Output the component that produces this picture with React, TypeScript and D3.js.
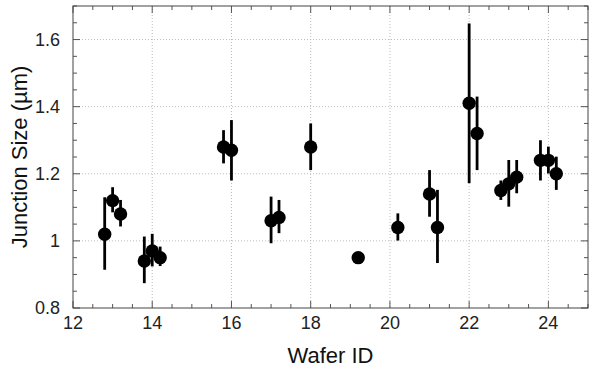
import React from "react";
import * as d3 from "d3";

const waferIds = [12.8, 13.0, 13.2, 13.8, 14.0, 14.2, 15.8, 16.0, 17.0, 17.2, 18.0, 19.2, 20.2, 21.0, 21.2, 22.0, 22.2, 22.8, 23.0, 23.2, 23.8, 24.0, 24.2];
const sizes = [1.02, 1.12, 1.08, 0.94, 0.97, 0.95, 1.28, 1.27, 1.06, 1.07, 1.28, 0.95, 1.04, 1.14, 1.04, 1.41, 1.32, 1.15, 1.17, 1.19, 1.24, 1.24, 1.2];
const errLow = [0.914, 1.085, 1.043, 0.874, 0.924, 0.925, 1.231, 1.18, 0.993, 1.023, 1.211, 0.95, 1.001, 1.072, 0.934, 1.172, 1.211, 1.122, 1.102, 1.142, 1.18, 1.201, 1.152];
const errHigh = [1.13, 1.16, 1.122, 1.013, 1.021, 0.983, 1.33, 1.36, 1.132, 1.122, 1.35, 0.95, 1.082, 1.211, 1.152, 1.648, 1.43, 1.18, 1.241, 1.241, 1.3, 1.281, 1.251];

const xTicks = [12, 14, 16, 18, 20, 22, 24];
const yTicks = [0.8, 1.0, 1.2, 1.4, 1.6];
const yTickLabels = ["0.8", "1", "1.2", "1.4", "1.6"];

const W = 589, H = 372;
const L = 73, R = 588, T = 6, B = 308;

export default function App() {
  const x = d3.scaleLinear().domain([12, 25]).range([L, R]);
  const y = d3.scaleLinear().domain([0.8, 1.7]).range([B, T]);
  const xMinor = d3.range(12, 25.001, 0.5);
  const yMinor = d3.range(0.8, 1.7001, 0.05);
  const font = "'Liberation Sans', Arial, Helvetica, sans-serif";
  const isMajorX = (v: number) => Math.abs(v / 2 - Math.round(v / 2)) < 1e-6;
  const isMajorY = (v: number) => Math.abs(v / 0.2 - Math.round(v / 0.2)) < 1e-6;
  return (
    <svg width={W} height={H} style={{ position: "absolute", left: 0, top: 0, background: "#fff" }} fontFamily={font}>
      {xTicks.filter((v) => v > 12).map((v) => (
        <line key={"gx" + v} x1={x(v)} x2={x(v)} y1={T} y2={B} stroke="#bbb" strokeWidth={1} strokeDasharray="1,2" />
      ))}
      {yTicks.filter((v) => v > 0.8).map((v) => (
        <line key={"gy" + v} x1={L} x2={R} y1={y(v)} y2={y(v)} stroke="#bbb" strokeWidth={1} strokeDasharray="1,2" />
      ))}
      {xMinor.map((v) => {
        const len = isMajorX(v) ? 7 : 4;
        return (
          <g key={"tx" + v}>
            <line x1={x(v)} x2={x(v)} y1={B} y2={B - len} stroke="#555" strokeWidth={1} />
            <line x1={x(v)} x2={x(v)} y1={T} y2={T + len} stroke="#555" strokeWidth={1} />
          </g>
        );
      })}
      {yMinor.map((v) => {
        const len = isMajorY(v) ? 7 : 4;
        return (
          <g key={"ty" + v.toFixed(2)}>
            <line x1={L} x2={L + len} y1={y(v)} y2={y(v)} stroke="#555" strokeWidth={1} />
            <line x1={R} x2={R - len} y1={y(v)} y2={y(v)} stroke="#555" strokeWidth={1} />
          </g>
        );
      })}
      <rect x={L} y={T} width={R - L} height={B - T} fill="none" stroke="#444" strokeWidth={1} />
      {xTicks.map((v) => (
        <text key={"lx" + v} x={x(v)} y={329} textAnchor="middle" fontSize={18} fill="#222">{v}</text>
      ))}
      {yTicks.map((v, i) => (
        <text key={"ly" + v} x={60} y={y(v)} dy="0.35em" textAnchor="end" fontSize={18} fill="#222">{yTickLabels[i]}</text>
      ))}
      <text x={(L + R) / 2} y={363} textAnchor="middle" fontSize={22} fill="#111">Wafer ID</text>
      <text transform={`translate(27,${(T + B) / 2}) rotate(-90)`} textAnchor="middle" fontSize={22} fill="#111">Junction Size (µm)</text>
      {waferIds.map((w, i) => (
        <g key={"p" + i}>
          {errHigh[i] - errLow[i] > 0.001 && (
            <line x1={x(w)} x2={x(w)} y1={y(errLow[i])} y2={y(errHigh[i])} stroke="#000" strokeWidth={2.8} />
          )}
          <circle cx={x(w)} cy={y(sizes[i])} r={6.7} fill="#000" />
        </g>
      ))}
    </svg>
  );
}
